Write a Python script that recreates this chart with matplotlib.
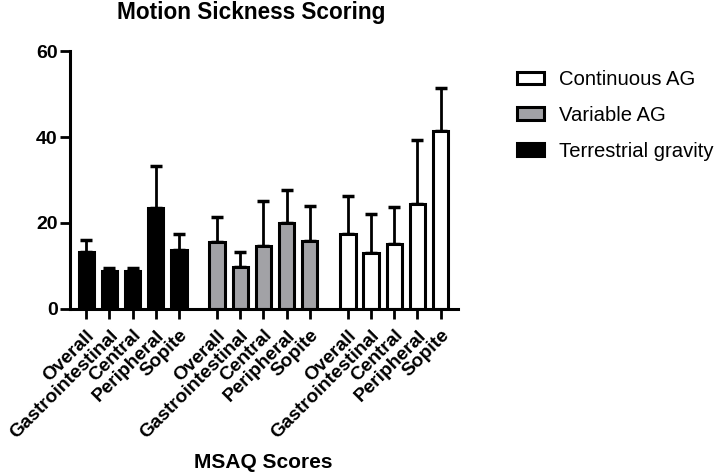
import matplotlib
matplotlib.use("Agg")
import matplotlib.pyplot as plt
import numpy as np

plt.rcParams['font.family'] = ['Liberation Sans', 'DejaVu Sans']

categories = ["Overall", "Gastrointestinal", "Central", "Peripheral", "Sopite"]
groups = ["Terrestrial gravity", "Variable AG", "Continuous AG"]
terrestrial_mean = [13.2, 8.9, 8.9, 23.5, 13.7]
terrestrial_sd = [2.7, 0.7, 0.7, 9.8, 3.6]
variable_mean = [15.5, 9.8, 14.6, 19.9, 15.7]
variable_sd = [5.9, 3.4, 10.6, 7.7, 8.2]
continuous_mean = [17.3, 13.0, 15.1, 24.5, 41.4]
continuous_sd = [9.0, 9.1, 8.7, 14.8, 10.1]

means = [terrestrial_mean, variable_mean, continuous_mean]
sds = [terrestrial_sd, variable_sd, continuous_sd]
colors = ["black", "#a2a2a6", "white"]

fig = plt.figure(figsize=(7.18, 4.72), dpi=100)
ax = fig.add_axes([70/718, 1-308.7/472, (458-70)/718, (308.7-51.3)/472])

group_offset = 5.65
bw = 0.66
positions = []
labels = []
handles = {}
for gi, (m, s, c, name) in enumerate(zip(means, sds, colors, groups)):
    x = np.arange(len(categories)) + gi * group_offset
    ax.errorbar(x, m, yerr=[np.zeros(len(s)), s], fmt='none', ecolor='black',
                elinewidth=2, capsize=4, capthick=2.5, zorder=1)
    b = ax.bar(x, m, width=bw, color=c, edgecolor='black', linewidth=2.2, zorder=2)
    handles[name] = b
    positions.extend(x)
    labels.extend(categories)

ax.set_xlim(-0.7, 16.05)
ax.set_ylim(0, 60)
ax.set_yticks([0, 20, 40, 60])
ax.set_xticks(positions)
ax.set_xticklabels(labels, rotation=45, ha='right', rotation_mode='anchor',
                   fontsize=13.8, fontweight='bold')
for lab in ax.get_yticklabels():
    lab.set_fontweight('bold')
    lab.set_fontsize(14)
ax.tick_params(axis='both', direction='out', length=7, width=2, pad=2)
ax.tick_params(axis='x', pad=6)
for sp in ['top', 'right']:
    ax.spines[sp].set_visible(False)
for sp in ['left', 'bottom']:
    ax.spines[sp].set_linewidth(2.2)

fig.text(251/718, 1-12/472, "Motion Sickness Scoring", ha='center', va='center',
         fontsize=16.3, fontweight='bold')
fig.text(263/718, 1-462/472, "MSAQ Scores", ha='center', va='center',
         fontsize=15, fontweight='bold')

leg = fig.legend([handles["Continuous AG"], handles["Variable AG"], handles["Terrestrial gravity"]],
                 ["Continuous AG", "Variable AG", "Terrestrial gravity"],
                 loc='upper left', bbox_to_anchor=(499/718, 1-52/472), frameon=False,
                 fontsize=14.6, handlelength=1.3, handleheight=0.58, labelspacing=0.82,
                 handletextpad=0.77)

fig.savefig("out.png", dpi=100)
